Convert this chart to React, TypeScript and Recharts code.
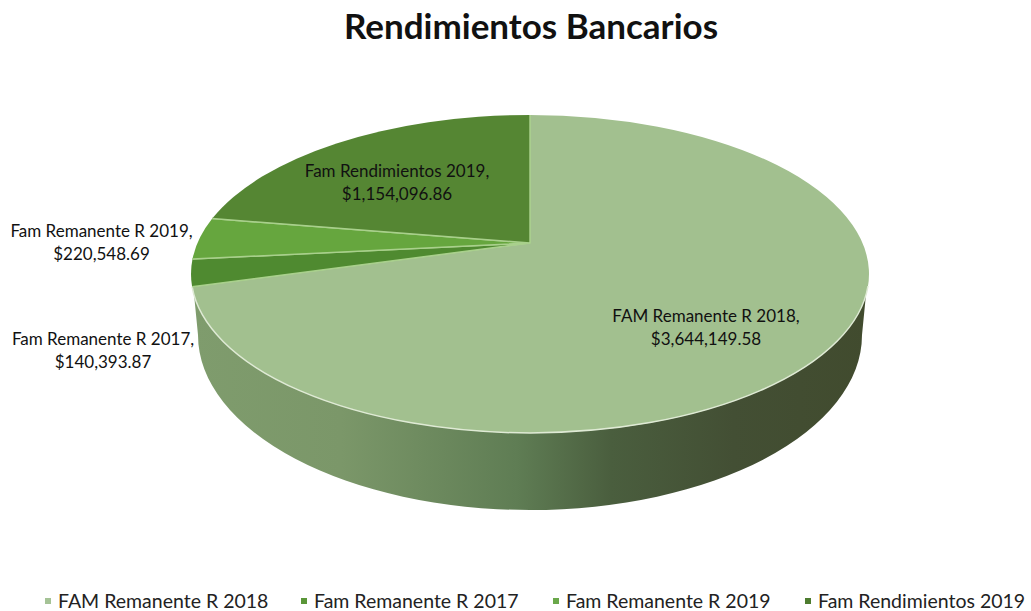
import React from 'react';
import { PieChart, Pie, Cell, Legend } from 'recharts';

const names = ['FAM Remanente R 2018', 'Fam Remanente R 2017', 'Fam Remanente R 2019', 'Fam Rendimientos 2019'];
const amounts = [3644149.58, 140393.87, 220548.69, 1154096.86];
const amountLabels = ['$3,644,149.58', '$140,393.87', '$220,548.69', '$1,154,096.86'];
const colors = ['#a2c08f', '#4f8a30', '#66a63e', '#558633'];
const legendColors = ['#a5c396', '#5a9638', '#6aa84a', '#4d7c2f'];
const labelCenters = [
  { x: 706, y: 322 },
  { x: 103, y: 345 },
  { x: 101.5, y: 237 },
  { x: 397, y: 177 },
];
const tableData = names.map((name, i) => ({ name, value: amounts[i] }));

const RATIO = 159 / 339;
const KLEIN = 0.195;
const ALPHA = (1 - Math.sqrt(1 - KLEIN * KLEIN)) / KLEIN;
const DEPTH_CY = 61;
const DEPTH_RX = 332;
const DEPTH_RY = 175;

const mapAngle = (deg: number) => {
  const r = (deg * Math.PI) / 180;
  const re = Math.cos(r);
  const im = Math.sin(r);
  const nr = re;
  const ni = im + ALPHA;
  const dr = 1 + ALPHA * im;
  const di = -ALPHA * re;
  const d = dr * dr + di * di;
  return { re: (nr * dr + ni * di) / d, im: (ni * dr - nr * di) / d };
};

const Slice = (props: any) => {
  const { cx, cy, outerRadius, startAngle, endAngle, fill, index } = props;
  const rx = outerRadius;
  const ry = outerRadius * RATIO;
  const a = mapAngle(startAngle);
  const b = mapAngle(endAngle);
  const ax = cx + rx * a.re;
  const ay = cy - ry * a.im;
  const bx = cx + rx * b.re;
  const by = cy - ry * b.im;
  const apexY = cy - ry * KLEIN;
  const t0 = Math.atan2(a.im, a.re);
  const t1 = Math.atan2(b.im, b.re);
  let delta = t0 - t1;
  while (delta < 0) delta += Math.PI * 2;
  const large = delta > Math.PI ? 1 : 0;
  const d = `M${cx},${apexY}L${ax},${ay}A${rx},${ry} 0 ${large} 1 ${bx},${by}Z`;
  const left = cx - rx;
  const right = cx + rx;
  return (
    <g>
      {index === 0 && (
        <>
          <defs>
            <linearGradient id="wallGrad" x1="0" x2="1" y1="0" y2="0">
              <stop offset="0" stopColor="#7f9c6d" />
              <stop offset="0.22" stopColor="#7b9769" />
              <stop offset="0.48" stopColor="#5f7d54" />
              <stop offset="0.62" stopColor="#4a5e3e" />
              <stop offset="0.8" stopColor="#434f34" />
              <stop offset="1" stopColor="#414b2e" />
            </linearGradient>
          </defs>
          <path
            d={`M${left + 2},${cy + 10}L${cx - DEPTH_RX},${cy + DEPTH_CY}A${DEPTH_RX},${DEPTH_RY} 0 0 0 ${cx + DEPTH_RX},${cy + DEPTH_CY}L${right - 1},${cy}Z`}
            fill="url(#wallGrad)"
          />
        </>
      )}
      <path d={d} fill={fill} stroke="none" />
      <path
        d={`M${ax},${ay}L${cx},${apexY}L${bx},${by}`}
        fill="none"
        stroke={index === 0 ? '#b4d6a0' : '#a9d08c'}
        strokeWidth={index === 0 ? 1 : 1.5}
      />
      {index === 0 && (
        <path
          d={`M${right - 1},${cy + 12}A${rx},${ry} 0 0 1 ${bx},${by}`}
          fill="none"
          stroke="#dfead5"
          strokeWidth={1.5}
        />
      )}
    </g>
  );
};

const renderLabel = (props: any) => {
  const i = props.index;
  const c = labelCenters[i];
  return (
    <text x={c.x} y={c.y} textAnchor="middle" fontFamily="Lato" fontSize={17} fill="#111">
      <tspan x={c.x} dy={0}>{names[i]},</tspan>
      <tspan x={c.x} dy={23}>{amountLabels[i]}</tspan>
    </text>
  );
};

const renderLegend = () => (
  <div style={{ position: 'relative', height: 24, fontFamily: 'Lato', fontSize: 19.5, color: '#222', whiteSpace: 'nowrap' }}>
    {names.map((n, i) => (
      <div key={n} style={{ position: 'absolute', left: [45, 301, 553, 805][i], top: 0, display: 'flex', alignItems: 'center' }}>
        <span style={{ width: 6, height: 6, background: legendColors[i], marginRight: 7, display: 'inline-block' }} />
        {n}
      </div>
    ))}
  </div>
);

export default function App() {
  return (
    <div style={{ position: 'absolute', left: 0, top: 0, width: 1031, height: 611, background: '#fff' }}>
      <PieChart width={1031} height={611} margin={{ top: 0, right: 0, bottom: 0, left: 0 }}>
        <text x={531} y={39} textAnchor="middle" fontFamily="Lato" fontWeight={700} fontSize={35} fill="#111">
          Rendimientos Bancarios
        </text>
        <Pie
          data={tableData}
          dataKey="value"
          nameKey="name"
          cx={530}
          cy={274}
          outerRadius={339}
          startAngle={90}
          endAngle={-270}
          stroke="none"
          isAnimationActive={false}
          shape={Slice}
          label={renderLabel}
          labelLine={false}
        >
          {tableData.map((_, i) => (
            <Cell key={i} fill={colors[i]} />
          ))}
        </Pie>
        <Legend content={renderLegend} wrapperStyle={{ left: 0, top: 589, width: 1031 }} />
      </PieChart>
    </div>
  );
}
